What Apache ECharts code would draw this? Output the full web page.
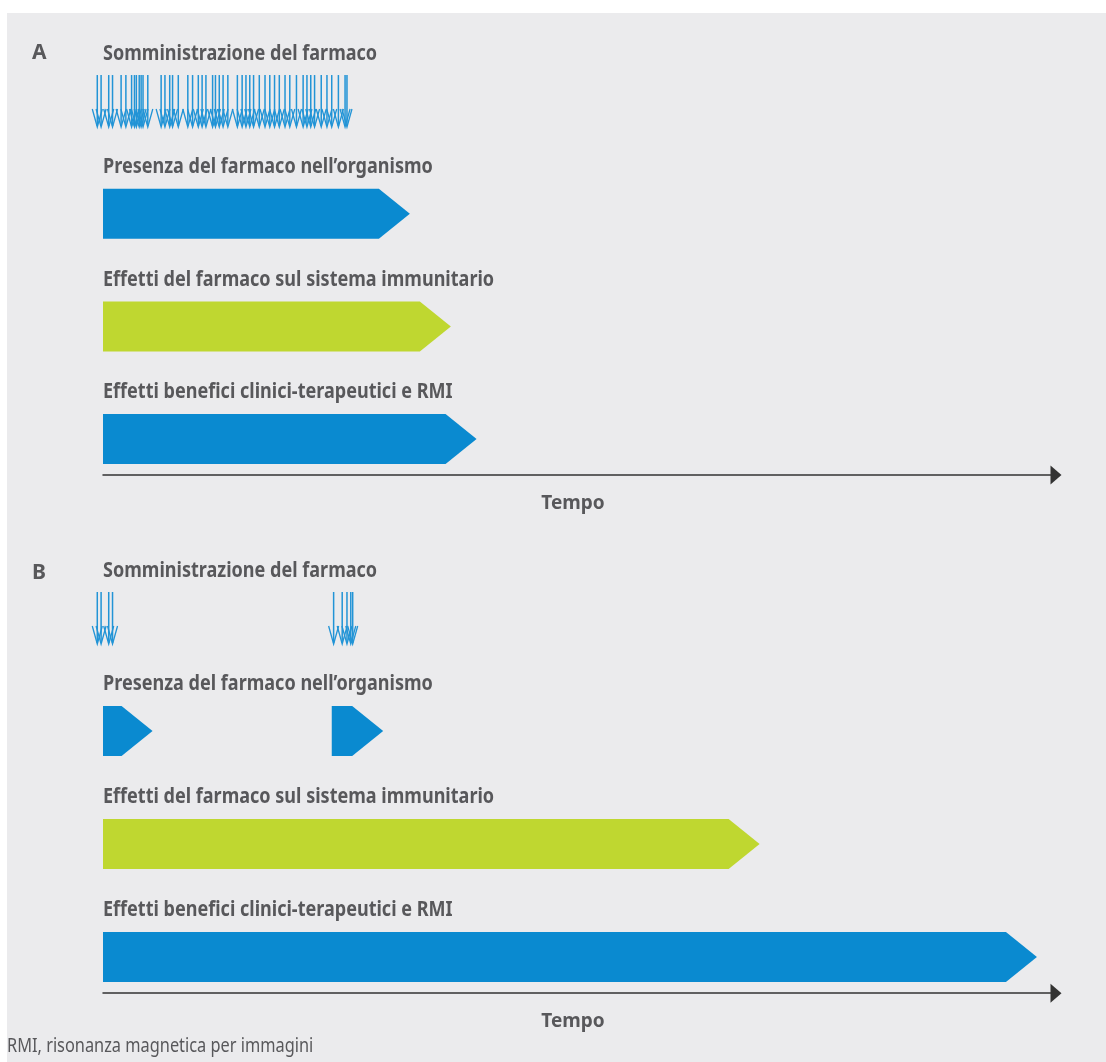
<!DOCTYPE html>
<html>
<head>
<meta charset="utf-8">
<script src="https://cdn.jsdelivr.net/npm/echarts@6/dist/echarts.min.js"></script>
<style>
    html, body { margin: 0; padding: 0; background: #fff; }
    #chart { width: 1106px; height: 1062px; }
</style>
</head>
<body>
<div id="chart"></div>
<script>
// titoli delle righe (uguali per A e B)
const rowTitles = [
    'Somministrazione del farmaco',
    'Presenza del farmaco nell\u2019organismo',
    'Effetti del farmaco sul sistema immunitario',
    'Effetti benefici clinici-terapeutici e RMI'
];
const panelNames = ['A', 'B'];
const axisName = 'Tempo';
const footnote = 'RMI, risonanza magnetica per immagini';

// tempi delle somministrazioni (unità di tempo arbitrarie 0-100)
const dosesA = [-0.6, -0.2, 0.6, 1.0, 1.9, 2.4, 3.0, 3.3, 3.5, 3.8, 4.0, 4.2, 4.7,
    6.1, 6.5, 7.0, 7.3, 7.9, 8.9, 9.4, 10.0, 10.4, 10.8, 11.5, 11.8, 12.2, 12.6,
    13.1, 14.1, 14.6, 15.0, 15.4, 15.8, 16.4, 17.0, 17.5, 18.0, 18.5, 19.1, 19.6,
    20.3, 21.0, 21.4, 21.8, 22.2, 22.9, 23.5, 24.0, 24.7, 25.4, 25.6];
const dosesB = [-0.6, -0.2, 0.6, 1.0, 24.2, 25.1, 25.6, 26.0, 26.2];

// barre: [inizio, fine, riga]
const barsA = [[0, 32.2, 1], [0, 36.5, 2], [0, 39.2, 3]];
const barsB = [[0, 5.2, 1], [24.0, 29.4, 1], [0, 68.9, 2], [0, 98.0, 3]];

const BLUE = '#0a8ad0';
const GREEN = '#bfd730';
const DOSE = '#2294d6';
const TEXT = '#58585b';
const FONT = '"Noto Sans", sans-serif';

var chart = echarts.init(document.getElementById('chart'));

function renderDose(params, api) {
    var p = api.coord([api.value(0), 0]);
    var x = p[0], y = p[1];
    return {
        type: 'group',
        children: [
            { type: 'line', shape: { x1: x, y1: y - 26, x2: x, y2: y + 25 },
              style: { stroke: DOSE, lineWidth: 1.5 } },
            { type: 'polyline', shape: { points: [[x - 5, y + 8], [x, y + 26], [x + 5, y + 8]] },
              style: { stroke: DOSE, fill: null, lineWidth: 1.3 } }
        ]
    };
}

function renderBar(params, api) {
    var s = api.coord([api.value(0), api.value(2)]);
    var e = api.coord([api.value(1), api.value(2)]);
    var h = 25, tip = 31;
    var x0 = s[0], x1 = e[0], y = s[1];
    return {
        type: 'polygon',
        shape: { points: [[x0, y - h], [x1 - tip, y - h], [x1, y], [x1 - tip, y + h], [x0, y + h]] },
        style: { fill: api.value(2) === 2 ? GREEN : BLUE }
    };
}

function renderTitle(params, api) {
    var p = api.coord([0, api.value(0)]);
    return {
        type: 'text',
        x: p[0],
        y: p[1] - 47,
        scaleX: 0.82,
        style: {
            text: rowTitles[params.dataIndex],
            font: 'bold 22px ' + FONT,
            fill: TEXT,
            textAlign: 'left',
            textVerticalAlign: 'middle',
            align: 'left',
            verticalAlign: 'middle'
        }
    };
}

function xAxisFor(i) {
    return {
        gridIndex: i,
        type: 'value',
        min: 0,
        max: 100,
        axisLine: {
            onZero: false,
            lineStyle: { color: '#333', width: 1.5 },
            symbol: ['none', 'triangle'],
            symbolSize: [19, 11]
        },
        axisTick: { show: false },
        axisLabel: { show: false },
        splitLine: { show: false },
        name: axisName,
        nameLocation: 'middle',
        nameGap: 19,
        nameTextStyle: { color: TEXT, fontWeight: 'bold', fontSize: 19, fontFamily: FONT, padding: [0, 13, 0, 0] }
    };
}

function yAxisFor(i) {
    return { gridIndex: i, type: 'value', inverse: true, min: -0.5, max: 3.32, show: false };
}

var rows = rowTitles.map(function (t, i) { return [i]; });

var series = [];
[[dosesA, barsA], [dosesB, barsB]].forEach(function (d, i) {
    series.push({
        type: 'custom', xAxisIndex: i, yAxisIndex: i, clip: false, silent: true,
        renderItem: renderDose, encode: { x: 0 },
        data: d[0].map(function (t) { return [t]; })
    });
    series.push({
        type: 'custom', xAxisIndex: i, yAxisIndex: i, clip: false, silent: true,
        renderItem: renderBar, encode: { x: [0, 1], y: 2 },
        data: d[1]
    });
    series.push({
        type: 'custom', xAxisIndex: i, yAxisIndex: i, clip: false, silent: true,
        renderItem: renderTitle, encode: { y: 0 },
        data: rows
    });
});

const option = {
    backgroundColor: '#fff',
    animation: false,
    graphic: [
        { type: 'rect', z: -100, shape: { x: 7, y: 13, width: 1099, height: 1049 }, style: { fill: '#ebebed' } },
        { type: 'text', x: 32, y: 53, style: { text: panelNames[0], font: 'bold 21px ' + FONT, fill: TEXT, textVerticalAlign: 'middle', verticalAlign: 'middle' } },
        { type: 'text', x: 32, y: 573, style: { text: panelNames[1], font: 'bold 21px ' + FONT, fill: TEXT, textVerticalAlign: 'middle', verticalAlign: 'middle' } },
        { type: 'text', x: 7, y: 1047, scaleX: 0.86, style: { text: footnote, font: '19px ' + FONT, fill: TEXT, textVerticalAlign: 'middle', verticalAlign: 'middle' } }
    ],
    grid: [
        { left: 103, width: 953, top: 44.7, height: 430.4 },
        { left: 103, width: 953, top: 561.5, height: 431.7 }
    ],
    xAxis: [xAxisFor(0), xAxisFor(1)],
    yAxis: [yAxisFor(0), yAxisFor(1)],
    series: series
};

chart.setOption(option);
window.addEventListener('resize', function () {
    chart.resize();
});
</script>
</body>
</html>
